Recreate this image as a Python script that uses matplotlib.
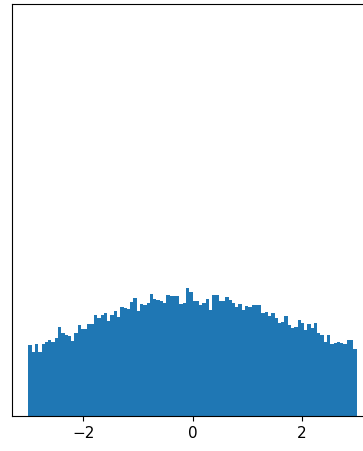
import matplotlib.pyplot as plt
import numpy as np

# bar heights (arbitrary units, 100 bins from -3 to 3)
heights = [71, 64, 72, 64, 72, 74, 76, 74, 78, 89,
           83, 81, 80, 75, 83, 91, 87, 87, 92, 92,
           101, 98, 101, 103, 95, 101, 105, 99, 109, 108,
           107, 114, 118, 105, 112, 111, 113, 122, 117, 116,
           115, 113, 121, 120, 120, 120, 112, 113, 128, 124,
           115, 115, 111, 113, 117, 106, 121, 121, 115, 115,
           119, 116, 113, 109, 112, 106, 110, 109, 111, 111,
           111, 103, 104, 100, 103, 98, 93, 94, 100, 91,
           88, 89, 96, 93, 86, 92, 88, 93, 83, 81,
           74, 81, 72, 73, 74, 73, 72, 76, 76, 67]
edges = np.linspace(-3, 3, 101)
centers = (edges[:-1] + edges[1:]) / 2

fig = plt.figure(figsize=(3.63, 4.51), dpi=100)
ax = fig.add_axes([12 / 363, 35 / 451, 361 / 363, 412 / 451])
ax.hist(centers, bins=edges, weights=heights)
ax.set_xlim(-3.3, 3.3)
ax.set_ylim(0, 412)
ax.set_yticks([])
ax.set_xticks([-2, 0, 2])
ax.tick_params(axis='x', labelsize=11)

fig.savefig("out.png", dpi=100)
